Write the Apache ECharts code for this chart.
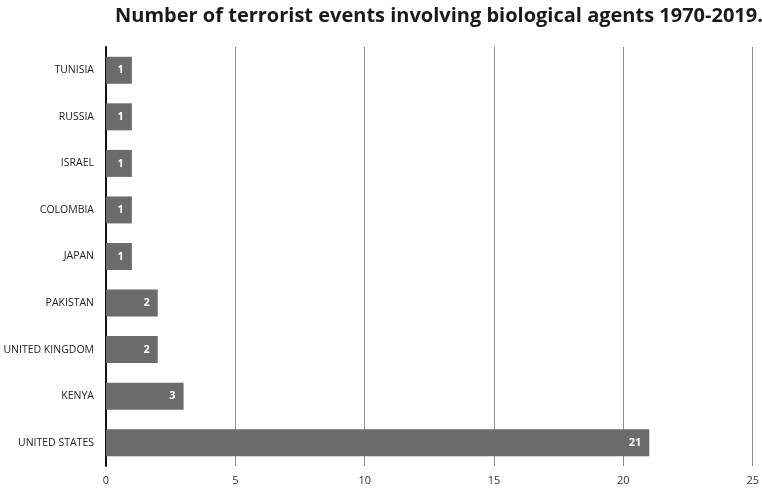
<!DOCTYPE html>
<html><head><meta charset="utf-8">
<script src="https://cdn.jsdelivr.net/npm/echarts@6/dist/echarts.min.js"></script>
<style>html,body{margin:0;padding:0;background:#fff}#c{width:762px;height:490px}</style>
</head><body><div id="c"></div>
<script>
const categories = ['UNITED STATES','KENYA','UNITED KINGDOM','PAKISTAN','JAPAN','COLOMBIA','ISRAEL','RUSSIA','TUNISIA'];
const values = [21, 3, 2, 2, 1, 1, 1, 1, 1];
const xTicks = [0, 5, 10, 15, 20, 25];
const titleText = 'Number of terrorist events involving biological agents 1970-2019.';

const chart = echarts.init(document.getElementById('c'));
chart.setOption({
  animation: false,
  title: {
    text: titleText, left: 434, textAlign: 'center', top: 1,
    textStyle: {fontFamily: 'Open Sans', fontWeight: 'bold', fontSize: 20, color: '#1a1a1a'}
  },
  grid: {left: 106, right: 9, top: 47, bottom: 24, containLabel: false},
  xAxis: {
    type: 'value', min: xTicks[0], max: xTicks[xTicks.length-1], interval: 5,
    axisLine: {show: false}, axisTick: {show: false},
    axisLabel: {color: '#333', fontFamily: 'Open Sans', fontSize: 11, margin: 9},
    splitLine: {show: true, lineStyle: {color: '#8a8a8a', width: 1}}
  },
  yAxis: {
    type: 'category', data: categories,
    axisLine: {show: true, onZero: false, lineStyle: {color: '#111', width: 2}},
    axisTick: {show: false},
    axisLabel: {color: '#222', fontFamily: 'Open Sans', fontSize: 10.5, margin: 12}
  },
  series: [{
    type: 'bar', data: values, barWidth: '58%',
    itemStyle: {color: '#6b6b6b'},
    label: {show: true, position: 'insideRight', color: '#fff', fontWeight: 'bold', fontFamily: 'Open Sans', fontSize: 11, distance: 8}
  }]
});
</script></body></html>
